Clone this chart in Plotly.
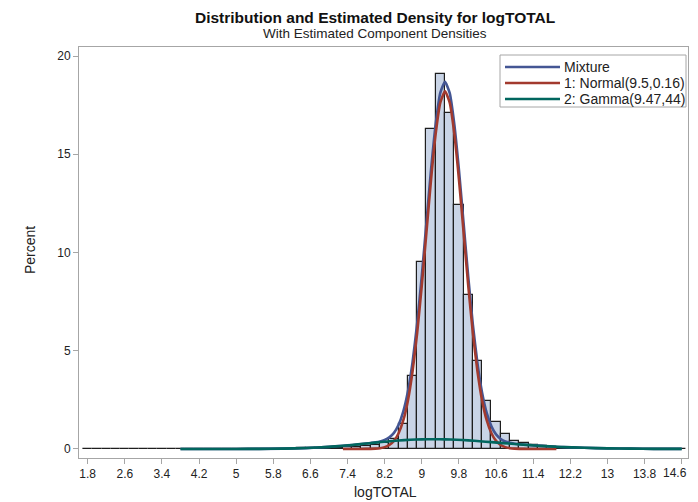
import plotly.graph_objects as go

# ---- data ----
bin_centers = [round(1.8 + 0.2 * i, 1) for i in range(65)]  # bins of width 0.2 from 1.7 to 14.7
bin_percent = [
    0.02, 0.02, 0.02, 0.02, 0.02, 0.02, 0.02, 0.02, 0.02, 0.02, 0.02,  # 1.8 - 3.8
    0.01, 0.01, 0.01, 0.01, 0.01, 0.01, 0.01, 0.01, 0.01, 0.01, 0.01,  # 4.0 - 6.0
    0.02, 0.03, 0.03, 0.04, 0.05, 0.06, 0.08, 0.12, 0.16, 0.20, 0.30,  # 6.2 - 8.2
    0.50, 1.28, 3.70, 9.53, 16.29, 19.10, 17.10, 12.42, 7.83, 4.48, 2.44,  # 8.4 - 10.4
    1.35, 0.74, 0.42, 0.30, 0.20, 0.13, 0.08, 0.05, 0.03, 0.02, 0.02,  # 10.6 - 12.6
    0.01, 0.01, 0.01, 0.01, 0.01, 0.01, 0.01, 0.01, 0.01, 0.01,  # 12.8 - 14.6
]

mix_x = [3.8, 5.0, 6.0, 6.5, 7.0, 7.3, 7.5, 7.7, 7.9, 8.0, 8.1, 8.2, 8.3, 8.4, 8.5, 8.6, 8.7,
         8.8, 8.9, 9.0, 9.1, 9.2, 9.3, 9.4, 9.5, 9.6, 9.7, 9.8, 9.9, 10.0, 10.1, 10.2, 10.3,
         10.4, 10.5, 10.6, 10.7, 10.8, 10.9, 11.0, 11.1, 11.3, 11.5, 11.7, 11.9, 12.5, 13.0,
         13.5, 14.0, 14.6]
mix_y = [0.0, 0.001, 0.015, 0.045, 0.108, 0.163, 0.205, 0.25, 0.306, 0.338, 0.384, 0.461,
         0.59, 0.82, 1.23, 1.90, 2.92, 4.41, 6.39, 8.82, 11.53, 14.24, 16.56, 18.14, 18.69,
         18.12, 16.53, 14.20, 11.49, 8.77, 6.33, 4.34, 2.85, 1.82, 1.15, 0.74, 0.51, 0.38,
         0.31, 0.27, 0.24, 0.20, 0.17, 0.14, 0.11, 0.058, 0.031, 0.015, 0.007, 0.003]

norm_x = [7.3, 7.5, 7.7, 7.9, 8.0, 8.1, 8.2, 8.3, 8.4, 8.5, 8.6, 8.7, 8.8, 8.9, 9.0, 9.1,
          9.2, 9.3, 9.4, 9.5, 9.6, 9.7, 9.8, 9.9, 10.0, 10.1, 10.2, 10.3, 10.4, 10.5, 10.6,
          10.7, 10.8, 10.9, 11.0, 11.1, 11.3, 11.5, 11.7, 11.9]
norm_y = [0.0, 0.0, 0.0, 0.006, 0.016, 0.04, 0.093, 0.20, 0.41, 0.80, 1.45, 2.46, 3.94,
          5.91, 8.33, 11.04, 13.74, 16.06, 17.64, 18.20, 17.64, 16.06, 13.74, 11.04, 8.33,
          5.91, 3.94, 2.46, 1.45, 0.80, 0.41, 0.20, 0.093, 0.04, 0.016, 0.006, 0.0, 0.0,
          0.0, 0.0]

gam_x = [3.8, 4.5, 5.0, 5.5, 6.0, 6.5, 7.0, 7.25, 7.5, 7.75, 8.0, 8.25, 8.5, 8.75, 9.0,
         9.25, 9.5, 9.75, 10.0, 10.25, 10.5, 10.75, 11.0, 11.25, 11.5, 12.0, 12.5, 13.0,
         13.5, 14.0, 14.6]
gam_y = [0.0, 0.0001, 0.0006, 0.0036, 0.0148, 0.0454, 0.108, 0.153, 0.205, 0.263, 0.322,
         0.379, 0.428, 0.466, 0.489, 0.498, 0.490, 0.469, 0.436, 0.394, 0.347, 0.299,
         0.252, 0.207, 0.167, 0.102, 0.058, 0.031, 0.015, 0.007, 0.003]

series_names = ["Mixture", "1: Normal(9.5,0.16)", "2: Gamma(9.47,44)"]
series_colors = ["#445694", "#A23A2E", "#01665E"]

x_ticks = [round(1.8 + 0.8 * i, 1) for i in range(17)]
x_tick_labels = ["1.8", "2.6", "3.4", "4.2", "5", "5.8", "6.6", "7.4", "8.2", "9", "9.8",
                 "10.6", "11.4", "12.2", "13", "13.8", "14.6"]
y_ticks = [0, 5, 10, 15, 20]

FONT = "Liberation Sans, Arial, sans-serif"

# The page body has an 8px margin; the visible figure spans window x 8..690, y 8..502.
OFF = 8
W, H = 690 - OFF, 502 - OFF
# target plot-area edges in window pixels
PL, PR, PT, PB = 79, 688, 47, 458
L, R, T, B = PL - OFF, W - (PR - OFF), PT - OFF, H - (PB - OFF)
PW, PH = PR - PL, PB - PT


def px(xw):
    return (xw - PL) / PW


def py(yw):
    return (PB - yw) / PH


fig = go.Figure()
fig.add_trace(go.Bar(
    x=bin_centers, y=bin_percent, width=0.2,
    marker=dict(color="#C9D4E6", line=dict(color="#1e1e1e", width=1.2)),
    showlegend=False, hoverinfo="skip"))
for xs, ys, name, col in zip([mix_x, norm_x, gam_x], [mix_y, norm_y, gam_y],
                             series_names, series_colors):
    fig.add_trace(go.Scatter(x=xs, y=ys, mode="lines", name=name, showlegend=False,
                             line=dict(color=col, width=2.6, shape="spline", smoothing=0.5)))

axis_common = dict(showline=True, linecolor="#A6A6A6", linewidth=1, mirror=True,
                   ticks="outside", ticklen=5, tickcolor="#A6A6A6", showgrid=False,
                   zeroline=False, automargin=False,
                   tickfont=dict(family=FONT, size=12, color="#222"))

shapes = [dict(type="rect", xref="paper", yref="paper", x0=px(500), x1=px(686),
               y0=py(107), y1=py(55), line=dict(color="#A6A6A6", width=1),
               fillcolor="white", layer="above")]
annotations = [
    dict(text="<b>Distribution and Estimated Density for logTOTAL</b>",
         x=px(375), y=py(17), xref="paper", yref="paper", showarrow=False,
         xanchor="center", yanchor="middle",
         font=dict(family=FONT, size=15.5, color="#111")),
    dict(text="With Estimated Component Densities",
         x=px(375), y=py(33), xref="paper", yref="paper", showarrow=False,
         xanchor="center", yanchor="middle",
         font=dict(family=FONT, size=13.5, color="#222")),
    dict(text="logTOTAL", x=px(385), y=py(492), xref="paper", yref="paper",
         showarrow=False, xanchor="center", yanchor="middle",
         font=dict(family=FONT, size=14, color="#222")),
    dict(text="Percent", x=px(30), y=py(250), xref="paper", yref="paper",
         showarrow=False, xanchor="center", yanchor="middle", textangle=-90,
         font=dict(family=FONT, size=14, color="#222")),
    # last x tick label, pulled inward to fit at the right edge (as in the reference)
    dict(text=x_tick_labels[-1], x=x_ticks[-1], xref="x", y=py(473), yref="paper",
         showarrow=False, xanchor="right", yanchor="middle", xshift=7,
         font=dict(family=FONT, size=12, color="#222")),
]
for i, (name, col) in enumerate(zip(series_names, series_colors)):
    yy = 67 + 16 * i
    shapes.append(dict(type="line", xref="paper", yref="paper", x0=px(505), x1=px(560),
                       y0=py(yy), y1=py(yy), line=dict(color=col, width=2.6),
                       layer="above"))
    annotations.append(dict(text=name, x=px(562), y=py(yy), xref="paper", yref="paper",
                            showarrow=False, xanchor="left", yanchor="middle",
                            font=dict(family=FONT, size=14, color="#222")))

fig.update_layout(
    width=W, height=H,
    margin=dict(l=L, r=R, t=T, b=B, pad=0),
    paper_bgcolor="white", plot_bgcolor="white",
    bargap=0, showlegend=False,
    font=dict(family=FONT, color="#222"),
    xaxis=dict(range=[1.613, 14.736], tickvals=x_ticks,
               ticktext=x_tick_labels[:-1] + [""], **axis_common),
    yaxis=dict(range=[-0.46, 20.46], tickvals=y_ticks, **axis_common),
    shapes=shapes,
    annotations=annotations,
)

fig.write_html("out.html")
